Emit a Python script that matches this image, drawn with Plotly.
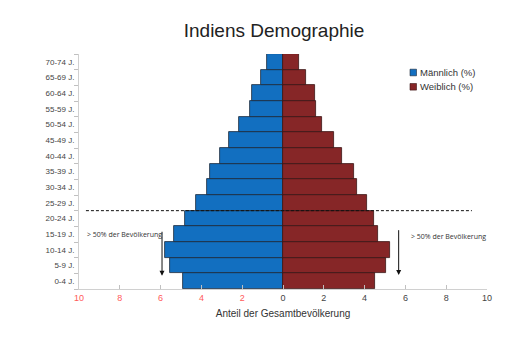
import plotly.graph_objects as go

age_groups = ["0-4 J.", "5-9 J.", "10-14 J.", "15-19 J.", "20-24 J.", "25-29 J.", "30-34 J.",
              "35-39 J.", "40-44 J.", "45-49 J.", "50-54 J.", "55-59 J.", "60-64 J.", "65-69 J.", "70-74 J."]
male = [4.88, 5.52, 5.78, 5.32, 4.80, 4.28, 3.72, 3.57, 3.11, 2.65, 2.15, 1.62, 1.54, 1.08, 0.79]
female = [4.49, 5.03, 5.26, 4.67, 4.48, 4.13, 3.64, 3.50, 2.91, 2.50, 1.93, 1.63, 1.57, 1.13, 0.78]
series_names = ["Männlich (%)", "Weiblich (%)"]
tick_vals = [-10, -8, -6, -4, -2, 0, 2, 4, 6, 8, 10]
tick_labels = ["10", "8", "6", "4", "2", "0", "2", "4", "6", "8", "10"]

blue = "#126fc0"
red = "#862627"
gray_txt = "#444444"
neg_color = "#ff5a5a"

ticktext = []
for v, t in zip(tick_vals, tick_labels):
    if v < 0:
        ticktext.append(f'<span style="color:{neg_color}">{t}</span>')
    else:
        ticktext.append(t)

fig = go.Figure()
fig.add_trace(go.Bar(y=age_groups, x=[-m for m in male], orientation="h", name=series_names[0],
                     showlegend=False,
                     marker=dict(color=blue, line=dict(color="#1d2a3a", width=0.8))))
fig.add_trace(go.Bar(y=age_groups, x=female, orientation="h", name=series_names[1],
                     showlegend=False,
                     marker=dict(color=red, line=dict(color="#3a1515", width=0.8))))

fig.update_layout(
    width=520, height=348,
    margin=dict(l=79, r=33, t=54, b=59),
    paper_bgcolor="white", plot_bgcolor="white",
    barmode="relative", bargap=0,
    font=dict(family="Liberation Sans, Arial, sans-serif", color=gray_txt, size=9),
    title=dict(text="Indiens Demographie", x=0.527, xanchor="center", y=0.912, yanchor="middle",
               font=dict(size=19, color="#222222")),
    xaxis=dict(range=[-10, 10], tickvals=tick_vals, ticktext=ticktext, showgrid=False, zeroline=False,
               showline=True, linecolor="#d0d0d0", linewidth=1, ticks="inside", ticklen=4,
               tickcolor="#c0c0c0", tickfont=dict(size=9, color=gray_txt),
               title=dict(text="Anteil der Gesamtbevölkerung", font=dict(size=10, color="#333333"), standoff=8)),
    yaxis=dict(type="category", categoryorder="array", categoryarray=age_groups, showgrid=False,
               showline=True, linecolor="#d0d0d0", linewidth=1, ticks="outside", ticklen=4,
               tickcolor="#c0c0c0", tickson="boundaries", tickfont=dict(size=8, color=gray_txt),
               ticklabelstandoff=2),
)

# legend (compact, like the original)
def px_x(p):
    return (p - 79) / 408.0

def px_y(p):
    return (289 - p) / 235.0

for i, (nm, col, lc) in enumerate(zip(series_names, [blue, red], ["#1d2a3a", "#3a1515"])):
    cy = 72.5 + i * 14.3
    fig.add_shape(type="rect", xref="paper", yref="paper",
                  x0=px_x(410), x1=px_x(416.5), y0=px_y(cy + 3.3), y1=px_y(cy - 3.3),
                  fillcolor=col, line=dict(color=lc, width=0.6))
    fig.add_annotation(x=px_x(417.5), y=px_y(cy), xref="paper", yref="paper", text=nm, showarrow=False,
                       xanchor="left", yanchor="middle", font=dict(size=9.5, color="#333333"))

# dashed separator between 20-24 and 25-29
fig.add_shape(type="line", xref="x", yref="y", x0=-9.66, x1=9.26, y0=4.5, y1=4.5,
              line=dict(color="#111111", width=1, dash="3px,2px"))

# arrows
fig.add_annotation(x=-5.93, y=0.35, ax=-5.93, ay=3.25, xref="x", yref="y", axref="x", ayref="y",
                   showarrow=True, arrowhead=2, arrowsize=1, arrowwidth=1, arrowcolor="#111111", text="")
fig.add_annotation(x=5.67, y=0.4, ax=5.67, ay=3.35, xref="x", yref="y", axref="x", ayref="y",
                   showarrow=True, arrowhead=2, arrowsize=1, arrowwidth=1, arrowcolor="#111111", text="")
fig.add_annotation(x=-9.7, y=3.0, xref="x", yref="y", text="&gt; 50% der Bevölkerung", showarrow=False,
                   xanchor="left", yanchor="middle", font=dict(size=7, color="#333333", family="Open Sans, sans-serif"))
fig.add_annotation(x=6.2, y=2.85, xref="x", yref="y", text="&gt; 50% der Bevölkerung", showarrow=False,
                   xanchor="left", yanchor="middle", font=dict(size=7, color="#333333", family="Open Sans, sans-serif"))

fig.write_html("out.html")
